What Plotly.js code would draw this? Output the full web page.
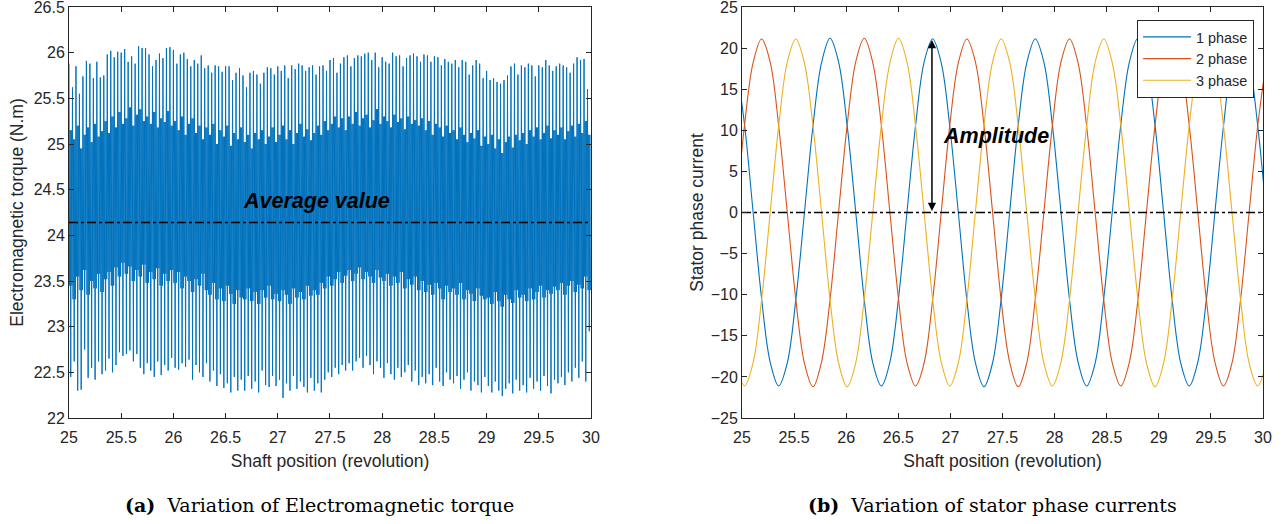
<!DOCTYPE html>
<html><head><meta charset="utf-8">
<script src="https://cdn.plot.ly/plotly-3.0.1.min.js"></script>
<style>html,body{margin:0;padding:0;background:#fff;}#chart{width:1287px;height:524px;}</style>
</head><body><div id="chart"></div>
<script>
// ---------- data ----------
const shaftRange = [25, 30];
const shaftTicks = [25, 25.5, 26, 26.5, 27, 27.5, 28, 28.5, 29, 29.5, 30];
const torqueTicks = [22, 22.5, 23, 23.5, 24, 24.5, 25, 25.5, 26, 26.5];
const currentTicks = [-25, -20, -15, -10, -5, 0, 5, 10, 15, 20, 25];

// torque: one ripple cycle = 1/30 revolution, 6 samples per cycle
const torqueStart = 25;
const torqueStep = 1 / 180;
const torquePeak = [
 25.88,25.62,25.85,25.55,25.74,25.91,25.88,25.72,25.90,25.73,
 25.75,25.98,26.02,25.95,26.01,26.00,26.04,25.90,25.96,25.88,
 26.07,26.05,26.05,25.98,25.85,25.92,25.99,25.94,26.05,26.06,
 26.03,25.88,25.98,26.00,25.93,25.85,25.92,25.88,25.97,25.83,
 25.86,25.78,25.86,25.85,25.79,25.85,25.85,25.70,25.78,25.83,
 25.75,25.62,25.78,25.80,25.76,25.66,25.78,25.84,25.83,25.76,
 25.85,25.80,25.86,25.72,25.86,25.82,25.88,25.86,25.80,25.84,
 25.86,25.76,25.85,25.86,25.80,25.92,25.94,25.78,25.88,25.95,
 25.97,25.85,25.94,25.97,25.96,25.99,26.00,25.92,26.00,25.84,
 25.95,25.90,25.88,26.00,25.96,25.97,25.85,25.94,25.97,25.99,
 25.96,25.90,25.98,25.97,25.90,25.96,25.95,25.86,25.93,25.90,
 25.88,25.92,25.84,25.92,25.90,25.76,25.86,25.92,25.88,25.72,
 25.80,25.70,25.72,25.68,25.66,25.70,25.75,25.85,25.88,25.76,
 25.86,25.84,25.88,25.86,25.74,25.86,25.84,25.92,25.86,25.80,
 25.85,25.88,25.86,25.84,25.78,25.88,25.95,25.92,25.93,25.60];
const torqueDip = [
 22.45,22.62,22.30,22.31,22.75,22.44,22.55,22.42,22.62,22.48,
 22.52,22.65,22.50,22.58,22.72,22.68,22.70,22.74,22.62,22.70,
 22.55,22.48,22.60,22.52,22.45,22.62,22.47,22.58,22.52,22.66,
 22.55,22.53,22.60,22.56,22.64,22.42,22.58,22.50,22.45,22.60,
 22.40,22.52,22.35,22.48,22.33,22.38,22.28,22.45,22.30,22.42,
 22.30,22.46,22.32,22.40,22.28,22.52,22.36,22.34,22.46,22.35,
 22.42,22.22,22.38,22.30,22.46,22.32,22.40,22.34,22.28,22.44,
 22.30,22.38,22.28,22.42,22.50,22.45,22.55,22.48,22.58,22.52,
 22.60,22.52,22.62,22.66,22.55,22.68,22.58,22.48,22.62,22.55,
 22.44,22.60,22.48,22.42,22.55,22.45,22.50,22.58,22.40,22.52,
 22.36,22.45,22.38,22.48,22.36,22.55,22.40,22.35,22.50,22.42,
 22.38,22.46,22.32,22.42,22.50,22.30,22.40,22.36,22.28,22.45,
 22.35,22.28,22.40,22.30,22.24,22.32,22.38,22.27,22.42,22.30,
 22.36,22.28,22.44,22.32,22.40,22.30,22.46,22.35,22.27,22.42,
 22.38,22.45,22.36,22.50,22.40,22.55,22.44,22.62,22.40,22.95];
const torqueBandHigh = [
 25.15,25.05,25.20,24.95,25.10,25.18,25.02,25.22,25.08,25.14,
 25.25,25.12,25.30,25.18,25.35,25.22,25.28,25.40,25.20,25.32,
 25.38,25.25,25.30,25.22,25.35,25.18,25.28,25.24,25.36,25.20,
 25.25,25.15,25.30,25.10,25.22,25.28,25.12,25.20,25.05,25.18,
 25.10,25.22,25.00,25.15,25.08,25.20,24.98,25.12,25.05,25.18,
 25.02,25.10,24.95,25.12,25.05,25.15,25.00,25.08,25.18,25.02,
 25.10,25.20,25.05,25.15,25.00,25.12,25.22,25.08,25.16,25.04,
 25.12,25.20,25.10,25.25,25.15,25.22,25.30,25.18,25.28,25.15,
 25.30,25.22,25.35,25.20,25.28,25.32,25.18,25.26,25.38,25.22,
 25.30,25.25,25.18,25.32,25.24,25.28,25.16,25.30,25.22,25.26,
 25.20,25.28,25.15,25.25,25.10,25.22,25.18,25.08,25.20,25.12,
 25.15,25.05,25.18,25.10,25.02,25.12,25.06,25.15,24.98,25.08,
 25.00,25.10,24.95,25.05,24.90,25.02,25.08,24.96,25.10,25.04,
 25.12,25.00,25.15,25.08,25.18,25.05,25.12,25.20,25.06,25.15,
 25.10,25.18,25.05,25.14,25.20,25.08,25.22,25.12,25.25,25.10];
const torqueBandLow = [
 23.45,23.30,23.55,23.40,23.62,23.35,23.50,23.42,23.58,23.38,
 23.52,23.60,23.45,23.65,23.55,23.70,23.58,23.66,23.50,23.62,
 23.55,23.68,23.48,23.60,23.52,23.64,23.45,23.58,23.50,23.62,
 23.48,23.60,23.42,23.55,23.50,23.38,23.52,23.45,23.58,23.40,
 23.35,23.48,23.30,23.42,23.28,23.45,23.36,23.25,23.40,23.32,
 23.30,23.42,23.28,23.38,23.25,23.40,23.32,23.45,23.30,23.36,
 23.28,23.40,23.35,23.25,23.42,23.32,23.38,23.30,23.45,23.34,
 23.40,23.35,23.48,23.42,23.55,23.45,23.52,23.60,23.48,23.56,
 23.62,23.50,23.58,23.65,23.52,23.60,23.55,23.48,23.62,23.54,
 23.50,23.58,23.45,23.55,23.48,23.60,23.42,23.52,23.46,23.55,
 23.40,23.50,23.38,23.46,23.35,23.48,23.42,23.30,23.45,23.38,
 23.42,23.35,23.48,23.30,23.40,23.36,23.28,23.42,23.34,23.30,
 23.32,23.25,23.38,23.28,23.22,23.35,23.30,23.26,23.40,23.32,
 23.35,23.28,23.42,23.30,23.38,23.45,23.32,23.40,23.36,23.44,
 23.40,23.48,23.35,23.45,23.50,23.38,23.46,23.42,23.55,23.40];
const torqueAverage = 24.14;

// stator phase currents, sampled every 30 electrical degrees
const currentStart = 24.942;
const currentStep = 0.08208;
const phase1 = [18.2,10.7,0.1,-10.5,-18.2,-21.1,-18.3,-10.6,-0.1,10.5,18.2,
 21.2,18.3,10.6,0.1,-10.6,-18.3,-21.1,-18.2,-10.5,0.1,10.6,18.3,
 21.1,18.2,10.5,0,-10.7,-18.3,-21.2,-18.3,-10.6,0,10.6,18.2,
 21.1,18.3,10.6,0.1,-10.6,-18.2,-21.1,-18.3,-10.5,0.1,10.7,18.3,
 21.2,18.2,10.6,0,-10.6,-18.3,-21.1,-18.2,-10.6,0,10.5,18.3,
 21.1,18.3,10.6,0];
const phase2 = [0.1,10.6,18.2,
 21.1,18.3,10.5,0,-10.6,-18.3,-21.2,-18.2,-10.6,0.1,10.6,18.3,
 21.2,18.2,10.6,0,-10.5,-18.3,-21.1,-18.3,-10.6,0,10.6,18.2,
 21.1,18.3,10.6,0.1,-10.6,-18.2,-21.2,-18.3,-10.5,0,10.6,18.3,
 21.1,18.2,10.5,0,-10.6,-18.3,-21.1,-18.2,-10.6,0.1,10.6,18.3,
 21.2,18.3,10.6,0,-10.6,-18.2,-21.1,-18.3,-10.6,0,10.5,18.3];
const phase3 = [-18.2,-21.1,-18.3,-10.6,0,10.6,18.3,
 21.1,18.2,10.6,0.1,-10.6,-18.3,-21.2,-18.3,-10.5,0,10.6,18.2,
 21.2,18.3,10.5,0,-10.6,-18.2,-21.1,-18.3,-10.6,0.1,10.6,18.3,
 21.1,18.3,10.6,0,-10.5,-18.3,-21.1,-18.2,-10.6,0,10.5,18.3,
 21.1,18.2,10.6,0.1,-10.6,-18.3,-21.2,-18.3,-10.6,0,10.6,18.2,
 21.2,18.3,10.6,0,-10.6,-18.3,-21.1,-18.3];
const phaseNames = ['1 phase', '2 phase', '3 phase'];
const currentZero = 0;
const amplitudeAt = 26.823;
const amplitudePeak = 21.0;

// ---------- build ----------
const torqueY = [];
torquePeak.forEach((p, i) => {
  torqueY.push(p, torqueBandLow[i], torqueBandHigh[i], torqueDip[i], torqueBandHigh[i], torqueBandLow[i]);
});

const AX = '#262626';
const sans = 'Liberation Sans, Arial, Helvetica, sans-serif';
const colors = ['#0072BD', '#D95319', '#EDB120'];

const traces = [
  {type: 'scatter', mode: 'lines', x0: torqueStart, dx: torqueStep, y: torqueY,
   line: {color: '#0072BD', width: 1}, showlegend: false, hoverinfo: 'skip', xaxis: 'x', yaxis: 'y'},
  {type: 'scatter', mode: 'lines', x: shaftRange, y: [torqueAverage, torqueAverage],
   line: {color: '#000', width: 1.6, dash: 'dashdot'}, showlegend: false, xaxis: 'x', yaxis: 'y'}
];
[phase1, phase2, phase3].forEach((ph, i) => {
  traces.push({type: 'scatter', mode: 'lines', x0: currentStart, dx: currentStep, y: ph,
    name: phaseNames[i], line: {color: colors[i], width: 1.1, shape: 'spline', smoothing: 1},
    xaxis: 'x2', yaxis: 'y2'});
});
traces.push({type: 'scatter', mode: 'lines', x: shaftRange, y: [currentZero, currentZero],
  line: {color: '#000', width: 1.6, dash: 'dashdot'}, showlegend: false, xaxis: 'x2', yaxis: 'y2'});

const axisBase = {
  showline: true, linecolor: AX, linewidth: 1, mirror: 'ticks',
  ticks: 'inside', ticklen: 5, tickwidth: 1, tickcolor: AX,
  showgrid: false, zeroline: false, ticklabeloverflow: 'allow',
  tickfont: {family: sans, size: 16, color: AX}
};
const xTitle = {text: 'Shaft position (revolution)', font: {family: sans, size: 17.5, color: AX}, standoff: 9};

const layout = {
  width: 1287, height: 524,
  margin: {l: 0, r: 0, t: 0, b: 0, pad: 0},
  paper_bgcolor: '#fff', plot_bgcolor: '#fff',
  xaxis: Object.assign({}, axisBase, {domain: [0.05361, 0.45921], range: shaftRange, tickvals: shaftTicks,
    title: xTitle, anchor: 'y', ticklabelstandoff: 5}),
  yaxis: Object.assign({}, axisBase, {domain: [0.20229, 0.98664], range: [22, 26.5], tickvals: torqueTicks,
    title: {text: 'Electromagnetic torque (N.m)', font: {family: sans, size: 17.5, color: AX}, standoff: 5}, anchor: 'x'}),
  xaxis2: Object.assign({}, axisBase, {domain: [0.57654, 0.98135], range: shaftRange, tickvals: shaftTicks,
    title: xTitle, anchor: 'y2', ticklabelstandoff: 5}),
  yaxis2: Object.assign({}, axisBase, {domain: [0.20229, 0.98664], range: [-25, 25], tickvals: currentTicks,
    title: {text: 'Stator phase current', font: {family: sans, size: 17.5, color: AX}, standoff: 2}, anchor: 'x2'}),
  legend: {x: 0.8835, y: 0.9618, xanchor: 'left', yanchor: 'top', bgcolor: '#fff',
    bordercolor: AX, borderwidth: 1, font: {family: sans, size: 14.4, color: AX},
    tracegroupgap: 0, itemwidth: 48},
  showlegend: true,
  annotations: [
    {xref: 'x', yref: 'y', x: 27.366, y: 24.38, text: '<b><i>Average value</i></b>', showarrow: false,
     font: {family: sans, size: 21.5, color: '#000'}, xanchor: 'center', yanchor: 'middle'},
    {xref: 'x2', yref: 'y2', x: 27.438, y: 9.31, text: '<b><i>Amplitude</i></b>', showarrow: false,
     font: {family: sans, size: 21.5, color: '#000'}, xanchor: 'center', yanchor: 'middle'},
    {xref: 'x2', yref: 'y2', x: amplitudeAt, y: amplitudePeak, axref: 'x2', ayref: 'y2',
     ax: amplitudeAt, ay: currentZero, text: '', showarrow: true, arrowhead: 2, startarrowhead: 2,
     arrowside: 'end+start', arrowsize: 1.1, startarrowsize: 1.1, arrowwidth: 1.5, arrowcolor: '#000'},
    {xref: 'paper', yref: 'paper', x: 0.2483, y: 0.0363, text: '<b>(a)</b>  Variation of Electromagnetic torque',
     showarrow: false, font: {family: 'DejaVu Serif, serif', size: 19, color: '#000'}, xanchor: 'center', yanchor: 'middle'},
    {xref: 'paper', yref: 'paper', x: 0.7708, y: 0.0363, text: '<b>(b)</b>  Variation of stator phase currents',
     showarrow: false, font: {family: 'DejaVu Serif, serif', size: 19, color: '#000'}, xanchor: 'center', yanchor: 'middle'}
  ]
};

Plotly.newPlot('chart', traces, layout, {displayModeBar: false, staticPlot: true});
</script>
</body></html>
